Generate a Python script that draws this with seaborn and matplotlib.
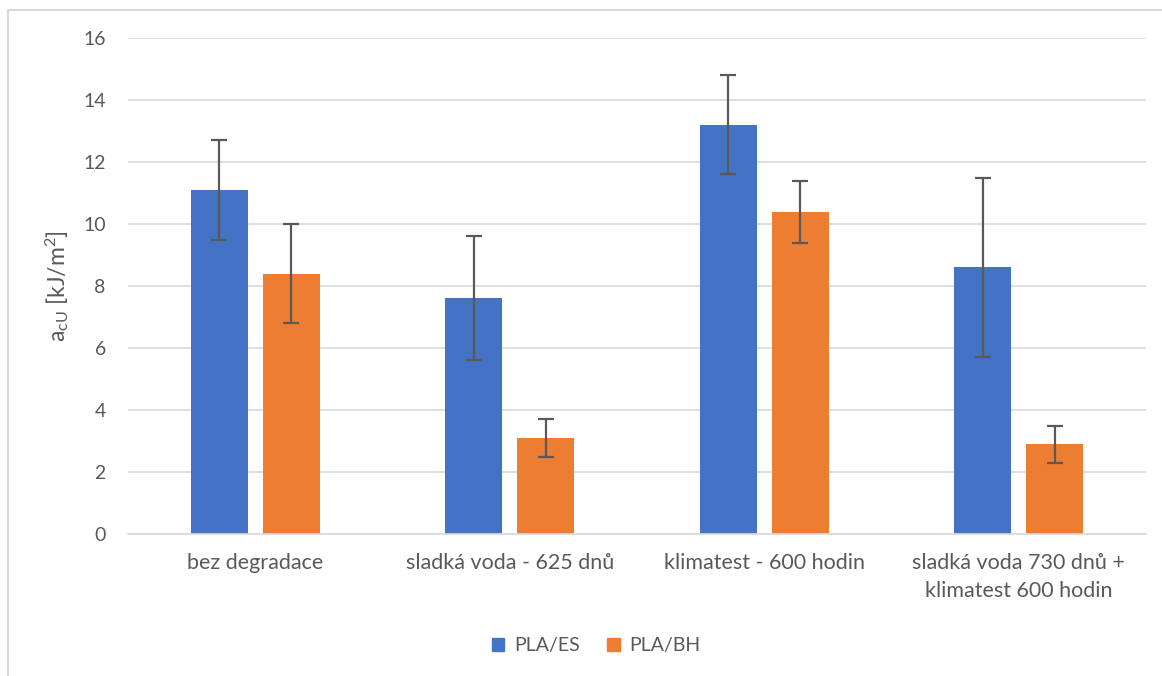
import matplotlib
matplotlib.use("Agg")
import matplotlib.pyplot as plt
from matplotlib.lines import Line2D
import seaborn as sns
import pandas as pd

# Impact strength per conditioning regime
categories = ["bez degradace", "sladká voda - 625 dnů", "klimatest - 600 hodin",
              "sladká voda 730 dnů +\nklimatest 600 hodin"]
series = ["PLA/ES", "PLA/BH"]
pla_es = [11.1, 7.6, 13.2, 8.6]
pla_es_sd = [1.6, 2.0, 1.6, 2.9]
pla_bh = [8.4, 3.1, 10.4, 2.9]
pla_bh_sd = [1.6, 0.6, 1.0, 0.6]
y_ticks = [0, 2, 4, 6, 8, 10, 12, 14, 16]

df = pd.DataFrame({
    "kategorie": categories * 2,
    "materiál": [series[0]] * 4 + [series[1]] * 4,
    "hodnota": pla_es + pla_bh,
    "sd": pla_es_sd + pla_bh_sd,
})

sns.set_theme(style="white")
plt.rcParams["font.family"] = ["Lato", "DejaVu Sans"]
plt.rcParams["mathtext.default"] = "regular"

text_col = "#595959"
grid_col = "#D9D9D9"
colors = {"PLA/ES": "#4472C4", "PLA/BH": "#ED7D31"}

fig = plt.figure(figsize=(11.62, 6.76), dpi=100)
ax = fig.add_axes([128 / 1162, 1 - 534 / 676, (1146 - 128) / 1162, (534 - 38) / 676])

sns.barplot(data=df, x="kategorie", y="hodnota", hue="materiál",
            hue_order=series, palette=colors, order=categories,
            width=0.566, gap=0.208, errorbar=None, saturation=1,
            edgecolor="none", legend=False, ax=ax)

# error bars from the drawn bar centres
bars = [p for p in ax.patches if p.get_height() > 0]
for p in bars:
    cx = p.get_x() + p.get_width() / 2
    h = p.get_height()
    row = df[(df["hodnota"] - h).abs() < 1e-9].iloc[0]
    ax.errorbar(cx, h, yerr=row["sd"], fmt="none", ecolor=text_col,
                elinewidth=1.6, capsize=6, capthick=1.6, zorder=4)

ax.set_ylim(0, 16)
ax.set_yticks(y_ticks)
ax.set_xlim(-0.5, 3.5)
ax.yaxis.grid(True, color=grid_col, linewidth=1.2)
ax.set_axisbelow(True)
for s in ["top", "right", "left"]:
    ax.spines[s].set_visible(False)
ax.spines["bottom"].set_color(grid_col)
ax.spines["bottom"].set_linewidth(1.2)
ax.tick_params(axis="both", length=0, colors=text_col)
ax.tick_params(axis="y", pad=16, labelsize=14)
ax.tick_params(axis="x", pad=14, labelsize=15.5)
for lbl in ax.get_xticklabels():
    lbl.set_linespacing(1.45)
ax.set_xlabel("")
ax.set_ylabel("a$_{cU}$ [kJ/m$^{2}$]", fontsize=16.5, color=text_col, labelpad=9)

handles = [plt.Rectangle((0, 0), 1, 1, color=colors[s]) for s in series]
fig.legend(handles, series, loc="center", bbox_to_anchor=(596 / 1162, 1 - 646 / 676),
           ncol=2, frameon=False, fontsize=14, labelcolor=text_col,
           handlelength=0.65, handleheight=0.65, handletextpad=0.5, columnspacing=1.4)

# chart area frame
fig.add_artist(Line2D([8 / 1162, 1.0], [1 - 10 / 676, 1 - 10 / 676],
                      color=grid_col, linewidth=1.5, transform=fig.transFigure))
fig.add_artist(Line2D([8 / 1162, 8 / 1162], [0, 1 - 10 / 676],
                      color=grid_col, linewidth=1.5, transform=fig.transFigure))

fig.savefig("out.png", dpi=100, facecolor="white")
